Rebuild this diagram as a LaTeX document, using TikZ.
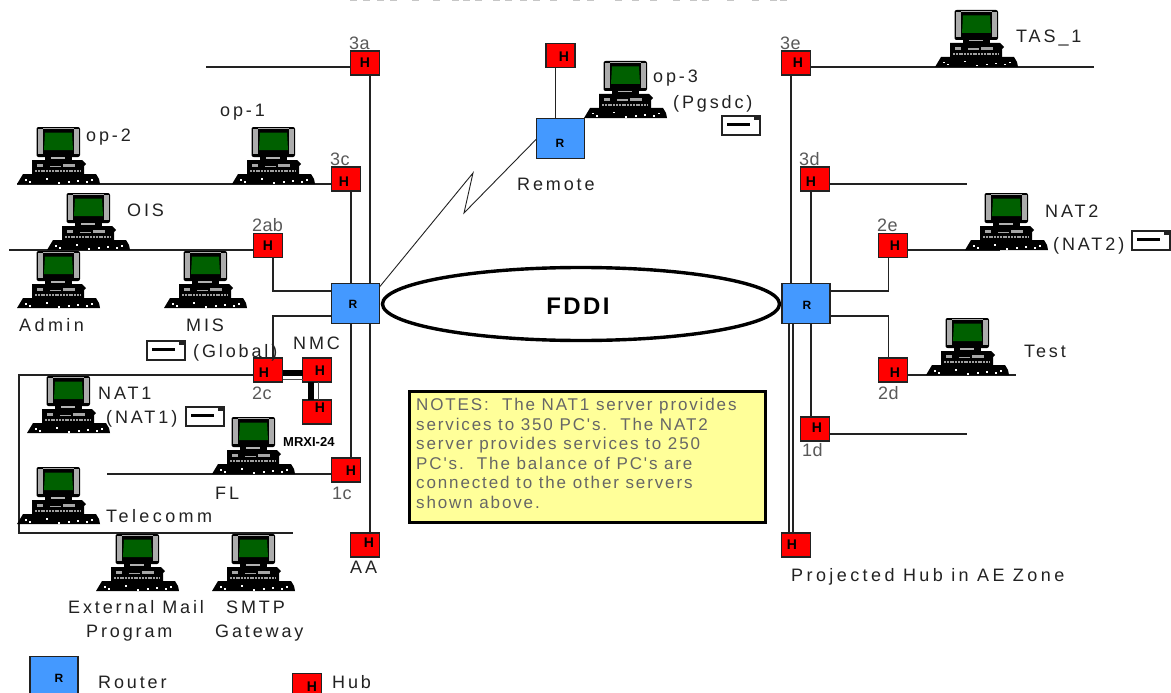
\documentclass[tikz,border=0pt]{standalone}
\usepackage{fontspec}
\usetikzlibrary{shapes.geometric}
\setmainfont{Liberation Sans}
\newfontfamily\labfont[LetterSpace=16]{Liberation Sans}
\newfontfamily\widefont[LetterSpace=19]{Liberation Sans}
\newfontfamily\tightfont[LetterSpace=2]{Liberation Sans}
\newfontfamily\notefont[LetterSpace=11]{Liberation Sans}
\definecolor{routerblue}{HTML}{4499FF}
\definecolor{hubred}{HTML}{FF0000}
\definecolor{screengreen}{HTML}{006000}
\definecolor{notefill}{HTML}{FFFF99}
\definecolor{notetext}{HTML}{666666}
\definecolor{inkc}{HTML}{222222}
\tikzset{
 hub/.style={draw=inkc,line width=1.3pt,fill=hubred,minimum width=29pt,minimum height=24pt,inner sep=0,outer sep=0},
 router/.style={draw=inkc,line width=1.3pt,fill=routerblue,minimum width=48pt,minimum height=40pt,inner sep=0,outer sep=0},
 hubmark/.style={font=\fontsize{14}{14}\selectfont\bfseries,text=black,inner sep=0},
 routermark/.style={font=\fontsize{12}{12}\selectfont\bfseries,text=black,inner sep=0},
 wire/.style={draw=inkc,line width=1.4pt},
 thinwire/.style={draw=inkc,line width=.9pt},
 lab/.style={anchor=base west,inner sep=0,text=inkc,font=\labfont\fontsize{18}{18}\selectfont},
 wlab/.style={anchor=base west,inner sep=0,text=inkc,font=\widefont\fontsize{18}{18}\selectfont},
 tlab/.style={anchor=base west,inner sep=0,text=inkc!75,font=\tightfont\fontsize{18}{18}\selectfont},
 computer/.pic={
  % monitor
  \fill[black,rounded corners=2pt] (-21.5,-57) rectangle (22,-27);
  \fill[gray!65] (-20,-55) rectangle (-15,-30);
  \fill[gray!65] (16,-55) rectangle (20.5,-30);
  \fill[gray!65] (-15,-56) rectangle (16,-55);
  \fill[screengreen] (-13,-51.5) -- (14,-51.5) -- (15,-34) -- (-14,-34) -- cycle;
  % stand and case
  \fill[black] (-13,-31) rectangle (14,-24);
  \fill[gray!60] (-7,-27) rectangle (7,-25.5);
  \fill[black] (-26,-24) -- (24,-24) -- (28,-20) -- (26,-18) -- (26,-9) -- (-26,-9) -- cycle;
  \fill[gray!70] (-21,-20) rectangle (-15,-17);
  \fill[gray!70] (-8,-18.5) rectangle (3,-17);
  \fill[gray!70] (5,-20) rectangle (17,-17);
  \draw[gray!75,line width=1.6pt,dash pattern=on 2pt off .8pt] (-23,-13) -- (23,-13);
  % keyboard
  \fill[black] (-41,0) -- (-35,-10) -- (38,-10) -- (41,-5) -- (42,0) -- cycle;
  \foreach \sx/\sy in {-33/-5,-29/-3,-12/-6,0/-2,10/-3,19/-4,28/-3,33/-5}
    \fill[white] (\sx,\sy) rectangle +(1.5,1.5);
 },
 envelope/.pic={
  \draw[draw=inkc,fill=white,line width=1.2pt] (0,0) rectangle (38,19);
  \fill[black] (5,7) rectangle (28,10);
  \fill[inkc] (32,0) rectangle (38,4);
 }
}
\newcommand\hubn[5]{\node[hub] (#1) at (#2,#3) {}; \node[hubmark] (#1m) at (#4,#5) {H};}
\newcommand\routern[5]{\node[router] (#1) at (#2,#3) {}; \node[routermark] (#1m) at (#4,#5) {R};}
\begin{document}
\begin{tikzpicture}[x=1pt,y=-1pt]
\path[use as bounding box,clip] (0,0) rectangle (1171,693);
\fill[white] (0,0) rectangle (1171,693);
% remnants of the cropped title
\foreach \tx in {350,363,377,390,412,433,452,463,475,493,505,520,533,550,573,587,615,632,650,673,690,702,727,752,770,780}
  \fill[gray!45] (\tx,0) rectangle +(7,1.5);
% free ends of the bus lines
\coordinate (c3a) at (206,67);
\coordinate (c3c) at (17,184);
\coordinate (c2ab) at (9,250);
\coordinate (c2ca) at (19,375);
\coordinate (c2cb) at (19,533);
\coordinate (c2cc) at (293,533);
\coordinate (c1c) at (107,474);
\coordinate (c3e) at (1094,67);
\coordinate (c3d) at (967,184);
\coordinate (c2e) at (1000,250);
\coordinate (c2d) at (1016,375);
\coordinate (c1d) at (967,434);
% FDDI ring
\node[draw=black,line width=3.4pt,ellipse,minimum width=397pt,minimum height=73pt,inner sep=0] (fddi) at (581,304) {};
\node[inner sep=0,font=\fontsize{24}{24}\selectfont\bfseries] (fdditext) at (578,306) {\addfontfeatures{LetterSpace=10}FDDI};
% hubs and routers
\hubn{h3a}{365}{63}{365}{63}
\hubn{h3c}{346}{179}{344}{182}
\hubn{h2ab}{268}{245.5}{268}{246}
\hubn{h2c}{268}{370}{264}{373}
\hubn{nmca}{317}{370}{320}{371}
\hubn{nmcb}{317}{412}{320}{408}
\hubn{h1c}{346}{470}{351}{471}
\hubn{hAA}{365}{545}{369}{543}
\hubn{hrem}{560.5}{55.5}{564}{57}
\hubn{h3e}{796}{63}{798}{63}
\hubn{h3d}{815}{179}{811}{182}
\hubn{h2e}{893}{245.5}{895}{246}
\hubn{h2d}{893}{370}{895}{373}
\hubn{h1d}{815}{429}{817}{428}
\hubn{hproj}{796}{545}{792}{545}
\hubn{hleg}{307}{685.5}{312}{686.5}
\routern{rl}{355.5}{303.5}{353}{304}
\routern{rr}{806}{303.5}{807}{305}
\routern{rrem}{560.5}{138.5}{560}{143}
\routern{rleg}{54}{676.5}{59}{678}
% connectors
\draw[wire] ([yshift=-4pt]h3a.west) -- (c3a);
\draw[wire] ([xshift=5pt]h3a.south) -- ([xshift=5pt]h3a.south |- rl.north);
\draw[wire] ([yshift=-5pt]h3c.west) -- (c3c);
\draw[wire] ([xshift=5pt]h3c.south) -- ([xshift=5pt]h3c.south |- rl.north);
\draw[wire] ([yshift=-4.5pt]h2ab.west) -- (c2ab);
\draw[wire] ([yshift=12.5pt]rl.west) -| ([xshift=5pt]h2ab.south);
\draw[wire] ([yshift=-12.5pt]rl.west) -| ([xshift=5pt]h2c.north);
\draw[wire] ([yshift=-5pt]h2c.west) -- (c2ca) -- (c2cb) -- (c2cc);
\draw[wire] ([yshift=-4pt]h1c.west) -- (c1c);
\draw[wire] ([xshift=5pt]h1c.north) -- ([xshift=5pt]h1c.north |- rl.south);
\draw[wire] ([xshift=5pt]hAA.north) -- ([xshift=5pt]hAA.north |- rl.south);
\draw[wire] ([xshift=-5pt]hrem.south) -- ([xshift=-5pt]hrem.south |- rrem.north);
\draw[thinwire] ([yshift=16.5pt]rl.east) -- (473,173) -- (464,213) -- ([yshift=-0.5pt]rrem.west);
\draw[wire] ([yshift=-4pt]h3e.east) -- (c3e);
\draw[wire] ([xshift=-5pt]h3e.south) -- ([xshift=-5pt]h3e.south |- rr.north);
\draw[wire] ([yshift=-5pt]h3d.east) -- (c3d);
\draw[wire] ([xshift=-4pt]h3d.south) -- ([xshift=-4pt]h3d.south |- rr.north);
\draw[wire] ([yshift=-4.5pt]h2e.east) -- (c2e);
\draw[wire] ([yshift=12.5pt]rr.east) -| ([xshift=-4.5pt]h2e.south);
\draw[wire] ([yshift=-12.5pt]rr.east) -| ([xshift=-4.5pt]h2d.north);
\draw[wire] ([yshift=-5pt]h2d.east) -- (c2d);
\draw[wire] ([yshift=-5pt]h1d.east) -- (c1d);
\draw[wire] ([xshift=-4pt]h1d.north) -- ([xshift=-4pt]h1d.north |- rr.south);
\draw[wire] ([xshift=-7pt]hproj.north) -- ([xshift=-7pt]hproj.north |- rr.south);
\draw[wire] ([xshift=-3pt]hproj.north) -- ([xshift=-3pt]hproj.north |- rr.south);
% double links at the NMC hubs
\draw[draw=black,line width=5.5pt] ([yshift=-3pt]h2c.east) -- ([yshift=-3pt]nmca.west);
\draw[draw=inkc!80,line width=1pt] ([yshift=-9pt]h2c.east) -- ([yshift=-9pt]nmca.west);
\draw[draw=black,line width=6pt] ([xshift=-6pt]nmca.south) -- ([xshift=-6pt]nmcb.north);
\draw[draw=inkc!80,line width=1pt] ([xshift=1pt]nmca.south) -- ([xshift=1pt]nmcb.north);
% computers
\pic (op2) at (58,184) {computer};
\pic (op1) at (273,184) {computer};
\pic (ois) at (88,250) {computer};
\pic (admin) at (58,308) {computer};
\pic (mis) at (205,308) {computer};
\pic (nat1) at (68,433) {computer};
\pic (fl) at (253,474) {computer};
\pic (tele) at (58,524) {computer};
\pic (extm) at (137,591) {computer};
\pic (smtp) at (253,591) {computer};
\pic (op3) at (625,118) {computer};
\pic (tas) at (976,67) {computer};
\pic (nat2) at (1006,250) {computer};
\pic (test) at (967,375) {computer};
% envelopes
\pic (eg) at (147,341) {envelope};
\pic (en1) at (186,407) {envelope};
\pic (ep) at (722,116) {envelope};
\pic (en2) at (1132,231) {envelope};
% notes
\node[draw=black,line width=3pt,fill=notefill,anchor=north west,minimum width=356pt,minimum height=131pt,inner sep=0] (notesbox) at (408,390) {};
\node[anchor=north west,align=left,inner sep=0,text=notetext,font=\notefont\fontsize{17}{19.6}\selectfont] (notes) at (416,398) {NOTES:\ \ The NAT1 server provides\\services to 350 PC's.\ \ The NAT2\\server provides services to 250\\PC's.\ \ The balance of PC's are\\connected to the other servers\\shown above.};
% labels
\node[tlab] (l3a) at (349,50) {3a};
\node[tlab] (l3c) at (330,165) {3c};
\node[tlab] (l2ab) at (252,231) {2ab};
\node[tlab] (l2c) at (252,399) {2c};
\node[tlab] (l1c) at (332,499) {1c};
\node[tlab] (l3e) at (780,50) {3e};
\node[tlab] (l3d) at (799,165) {3d};
\node[tlab] (l2e) at (877,231) {2e};
\node[tlab] (l2d) at (878,399) {2d};
\node[tlab] (l1d) at (802,456) {1d};
\node[lab] (lop1) at (220,117) {op-1};
\node[lab] (lop2) at (86,141) {op-2};
\node[lab] (lois) at (127,216) {OIS};
\node[wlab] (ladmin) at (19,331) {Admin};
\node[lab] (lmis) at (186,331) {MIS};
\node[lab] (lglobal) at (193,357) {(Global)};
\node[lab] (lnmc) at (293,349) {NMC};
\node[lab] (lnat1) at (98,399) {NAT1};
\node[lab] (lnat1b) at (106,423) {(NAT1)};
\node[anchor=base west,inner sep=0,font=\fontsize{13}{13}\selectfont\bfseries] (lmrx) at (283,446) {MRXI-24};
\node[lab] (lfl) at (215,499) {FL};
\node[wlab] (ltele) at (106,522) {Telecomm};
\node[lab] (laa) at (350,573) {AA};
\node[lab] (lext) at (68,613) {External Mail};
\node[lab] (lprog) at (86,637) {Program};
\node[lab] (lsmtp) at (226,613) {SMTP};
\node[lab] (lgate) at (215,637) {Gateway};
\node[lab] (lrouter) at (98,688) {Router};
\node[lab] (lhub) at (332,688) {Hub};
\node[lab] (lremote) at (517,190) {Remote};
\node[lab] (lop3) at (653,83) {op-3};
\node[lab] (lpgs) at (673,108) {(Pgsdc)};
\node[lab] (ltas) at (1016,43) {TAS\_1};
\node[lab] (lnat2) at (1045,217) {NAT2};
\node[lab] (lnat2b) at (1053,250) {(NAT2)};
\node[lab] (ltest) at (1024,357) {Test};
\node[wlab] (lproj) at (791,581) {Projected Hub in AE Zone};
\end{tikzpicture}
\end{document}
